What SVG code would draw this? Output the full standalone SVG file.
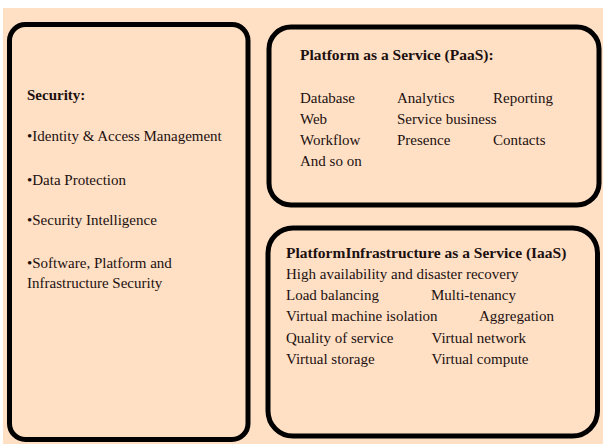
<svg xmlns="http://www.w3.org/2000/svg" width="603" height="444" viewBox="0 0 603 444">
  <style>
    .panel { fill: #FFE0C5; stroke: #000000; stroke-width: 5; }
    .txt { font-family: "Liberation Serif", "Times New Roman", serif; font-size: 15px; fill: #1c1010; }
    .head { font-weight: bold; }
  </style>
  <!-- page background -->
  <rect x="0" y="0" width="603" height="444" fill="#FFFFFF"/>
  <rect x="3" y="8" width="600" height="436" fill="#FFE0C5"/>

  <!-- Security panel -->
  <g id="security">
    <rect class="panel" x="9.5" y="24.5" width="238.5" height="415" rx="16" ry="16"/>
    <text class="txt head" x="27" y="100">Security:</text>
    <text class="txt" x="27" y="141">•Identity &amp; Access Management</text>
    <text class="txt" x="27" y="185">•Data Protection</text>
    <text class="txt" x="27" y="225">•Security Intelligence</text>
    <text class="txt" x="27" y="268">•Software, Platform and</text>
    <text class="txt" x="27" y="288">Infrastructure Security</text>
  </g>

  <!-- PaaS panel -->
  <g id="paas">
    <rect class="panel" x="269" y="27" width="330" height="178" rx="22" ry="22"/>
    <text class="txt head" x="300" y="60" style="font-size:15.5px">Platform as a Service (PaaS):</text>
    <text class="txt" x="300" y="103">Database</text>
    <text class="txt" x="397" y="103">Analytics</text>
    <text class="txt" x="493" y="103">Reporting</text>
    <text class="txt" x="300" y="124">Web</text>
    <text class="txt" x="397" y="124">Service business</text>
    <text class="txt" x="300" y="145">Workflow</text>
    <text class="txt" x="397" y="145">Presence</text>
    <text class="txt" x="493" y="145">Contacts</text>
    <text class="txt" x="300" y="166">And so on</text>
  </g>

  <!-- IaaS panel -->
  <g id="iaas">
    <rect class="panel" x="268" y="228" width="329.5" height="208" rx="25" ry="25"/>
    <text class="txt head" x="286" y="258" style="font-size:15.5px">PlatformInfrastructure as a Service (IaaS)</text>
    <text class="txt" x="286" y="279">High availability and disaster recovery</text>
    <text class="txt" x="286" y="300">Load balancing</text>
    <text class="txt" x="431" y="300">Multi-tenancy</text>
    <text class="txt" x="286" y="321">Virtual machine isolation</text>
    <text class="txt" x="479" y="321">Aggregation</text>
    <text class="txt" x="286" y="342.5">Quality of service</text>
    <text class="txt" x="431.5" y="342.5">Virtual network</text>
    <text class="txt" x="286" y="364">Virtual storage</text>
    <text class="txt" x="431.5" y="364">Virtual compute</text>
  </g>

  <!-- no connectors in this diagram -->
  <g id="connectors"/>
</svg>
